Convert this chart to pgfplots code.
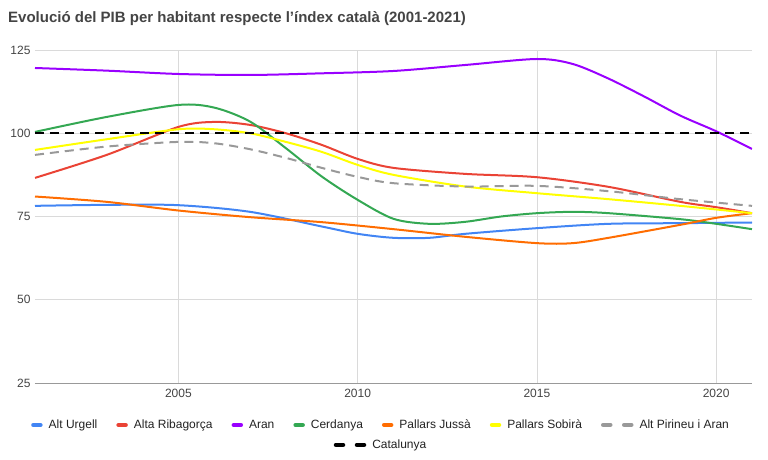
\documentclass[border=0pt]{standalone}
\usepackage{fontspec}
\setmainfont{Liberation Sans}
\usepackage{pgfplots}
\pgfplotsset{compat=1.18}
\definecolor{cBlue}{HTML}{4285F4}
\definecolor{cRed}{HTML}{EA4335}
\definecolor{cPurple}{HTML}{9900FF}
\definecolor{cGreen}{HTML}{34A853}
\definecolor{cOrange}{HTML}{FF6D01}
\definecolor{cYellow}{HTML}{FFFF00}
\definecolor{cGray}{HTML}{999999}
\definecolor{gridgray}{HTML}{DADADA}
\definecolor{titlegray}{HTML}{444444}
\definecolor{ticktext}{HTML}{444444}
\definecolor{legtext}{HTML}{222222}
\pgfplotsset{
  solidleg/.style={legend image code/.code={\draw[##1,line width=4.5pt,solid,line cap=round] (2.25pt,0pt) -- (9.25pt,0pt);}},
  dashleg/.style={legend image code/.code={\draw[##1,line width=4.5pt,solid,line cap=round] (2.25pt,0pt) -- (9.25pt,0pt); \draw[##1,line width=4.5pt,solid,line cap=round] (23.25pt,0pt) -- (30.25pt,0pt);}},
}
\begin{document}
\begin{tikzpicture}[x=1pt,y=1pt]
\useasboundingbox (-35,-76) rectangle (733,383);
\node[anchor=base west, font=\bfseries\fontsize{15}{18}\selectfont, text=titlegray, inner sep=0pt] at (-27,360) {Evolució del PIB per habitant respecte l’índex català (2001-2021)};
\begin{axis}[
  at={(0,0)}, anchor=south west,
  scale only axis, width=717pt, height=333pt,
  xmin=2001, xmax=2021, ymin=25, ymax=125,
  xtick={2005,2010,2015,2020}, ytick={25,50,75,100,125},
  grid=major, major grid style={draw=gridgray, line width=0.8pt},
  axis line style={draw=none},
  major tick length=0pt,
  /pgf/number format/assume math mode=true,
  /pgf/number format/set thousands separator={},
  ticklabel style={font=\fontsize{12}{14}\selectfont, text=ticktext},
  xticklabel style={yshift=-3pt},
  yticklabel style={xshift=-1pt},
  legend columns=7,
  legend style={at={(0.4826,-0.126)}, anchor=center, draw=none, fill=none,
    font=\fontsize{12}{14}\selectfont, text=legtext,
    /tikz/every odd column/.append style={column sep=4pt},
    /tikz/every even column/.append style={column sep=17pt},
    inner sep=0pt},
  legend cell align=left,
  every axis plot/.append style={smooth, tension=0.5, line width=2pt, line join=round},
]
\addplot[forget plot, draw=gridgray!70!black, line width=0.9pt, sharp plot] coordinates {(2001,25) (2021,25)};
\addplot[cBlue, solidleg] coordinates {(2001,78.2) (2003,78.5) (2005,78.4) (2007,76.4) (2009,72) (2010,69.8) (2011,68.6) (2012,68.6) (2013,69.8) (2015,71.5) (2017,72.8) (2019,73) (2021,73.2)};
\addlegendentry{Alt Urgell}
\addplot[cRed, solidleg] coordinates {(2001,86.6) (2003,93.5) (2005,101.9) (2006,103.4) (2007,102.5) (2008,100) (2009,96.5) (2010,92.3) (2011,89.6) (2013,87.8) (2015,86.8) (2017,83.9) (2019,79.4) (2020,77.8) (2021,76)};
\addlegendentry{Alta Ribagorça}
\addplot[cPurple, solidleg] coordinates {(2001,119.6) (2003,118.8) (2005,117.8) (2007,117.5) (2009,118) (2011,118.7) (2013,120.5) (2015,122.3) (2016,120.8) (2017,116.4) (2018,111) (2019,105.3) (2020,100.6) (2021,95.3)};
\addlegendentry{Aran}
\addplot[cGreen, solidleg] coordinates {(2001,100.4) (2003,104.9) (2005,108.5) (2006,107.7) (2007,103.5) (2008,95.5) (2009,87) (2010,80) (2011,74.3) (2012,72.8) (2013,73.4) (2014,75) (2015,76) (2016,76.4) (2017,76) (2019,74.2) (2020,72.8) (2021,71.2)};
\addlegendentry{Cerdanya}
\addplot[cOrange, solidleg] coordinates {(2001,81) (2003,79.4) (2005,76.8) (2007,74.8) (2009,73.3) (2011,71.2) (2013,68.9) (2015,67) (2016,67) (2017,68.6) (2019,72.5) (2020,74.6) (2021,76)};
\addlegendentry{Pallars Jussà}
\addplot[cYellow, solidleg] coordinates {(2001,95) (2003,98.2) (2005,101.2) (2006,101.2) (2007,100) (2008,97.4) (2009,94.4) (2010,90.5) (2011,87.5) (2013,84) (2015,82) (2017,80.2) (2019,78.2) (2021,76)};
\addlegendentry{Pallars Sobirà}
\addplot[cGray, dash pattern=on 9pt off 6pt, dashleg] coordinates {(2001,93.5) (2003,96) (2005,97.4) (2006,97) (2007,95.2) (2008,92.6) (2009,89.6) (2010,86.9) (2011,85) (2013,84) (2015,84.2) (2017,82.6) (2019,80.2) (2021,78.2)};
\addlegendentry{Alt Pirineu i Aran}
\end{axis}
\begin{axis}[
  at={(0,0)}, anchor=south west,
  scale only axis, width=717pt, height=333pt,
  xmin=2001, xmax=2021, ymin=25, ymax=125,
  hide axis,
  legend style={at={(0.4826,-0.186)}, anchor=center, draw=none, fill=none,
    font=\fontsize{12}{14}\selectfont, text=legtext, inner sep=0pt,
    /tikz/every odd column/.append style={column sep=4pt}},
]
\addplot[black, line width=2.4pt, dash pattern=on 9pt off 6pt, sharp plot, dashleg] coordinates {(2001,100) (2021,100)};
\addlegendentry{Catalunya}
\end{axis}
\end{tikzpicture}
\end{document}
